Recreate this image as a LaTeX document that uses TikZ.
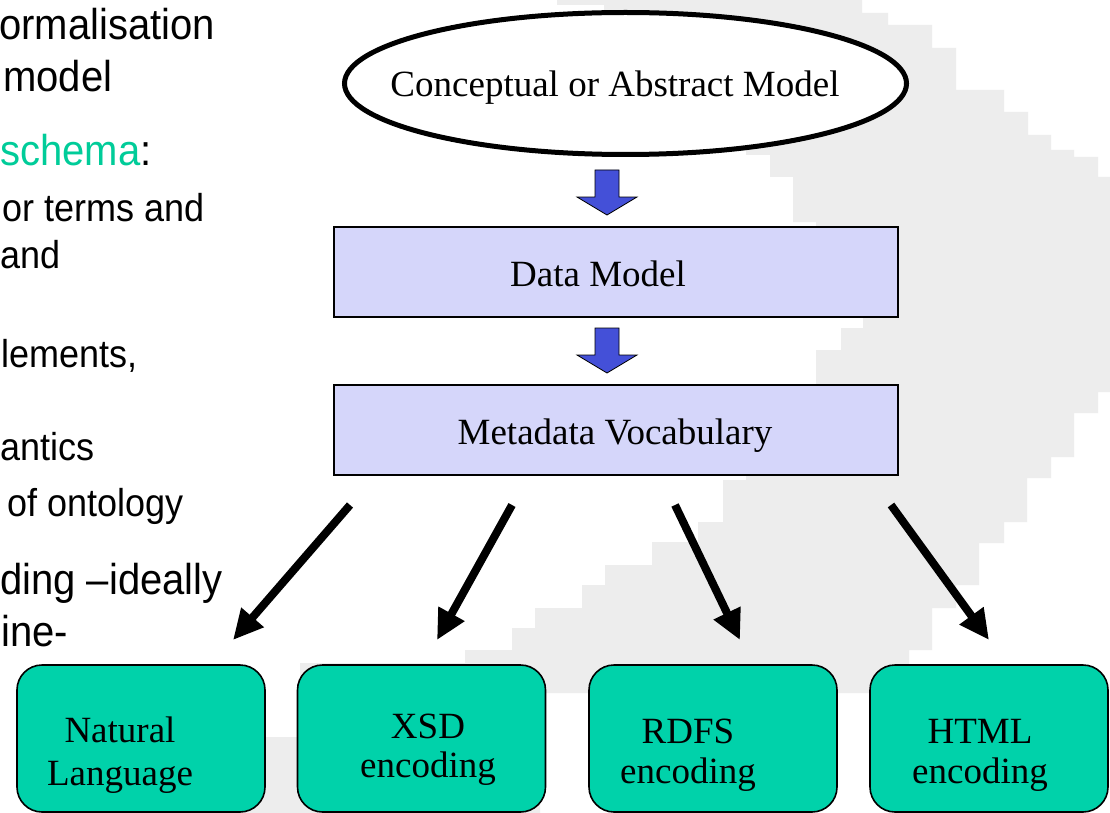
\documentclass[tikz,border=0pt]{standalone}
\usepackage{fontspec}
\usepackage{graphicx}
\setmainfont{Liberation Serif}
\newfontfamily\arialf{Liberation Sans}
\usetikzlibrary{arrows.meta,shapes.geometric}
\definecolor{bggray}{RGB}{237,237,237}
\definecolor{lav}{RGB}{213,214,250}
\definecolor{tealbox}{RGB}{0,210,170}
\definecolor{grn}{RGB}{0,204,153}
\definecolor{bluearr}{RGB}{68,80,216}
\newcommand\vstretch[1]{\scalebox{1}[1.08]{#1}}
\begin{document}
\begin{tikzpicture}[x=1pt,y=-1pt,
  serif/.style={font=\fontsize{37}{42}\selectfont, inner sep=0pt, anchor=base},
  maintxt/.style={font=\arialf\fontsize{40}{46}\selectfont, inner sep=0pt, anchor=base west},
  subtxt/.style={font=\arialf\fontsize{36}{42}\selectfont, inner sep=0pt, anchor=base west},
  vbox/.style={draw=black, line width=2pt, fill=lav, minimum width=564pt, minimum height=90pt, inner sep=0pt},
  encbox/.style={draw=black, line width=1.6pt, fill=tealbox, rounded corners=25pt, minimum width=248pt, minimum height=147pt, inner sep=0pt},
  blockarr/.style={fill=bluearr, draw=black, line width=0.8pt},
  bigarrow/.style={draw=black, line width=8pt, -{Triangle[length=30pt,width=28pt]}}
]
\useasboundingbox (0,0) rectangle (1110,813);
\fill[white] (0,0) rectangle (1110,813);
% stepped background band
\fill[bggray] (557,0) -- (862,0) -- (862,13) -- (888,13) -- (888,25) -- (932,25) -- (932,48) -- (956,48) -- (956,90) -- (1004,90) -- (1004,112) -- (1028,112) -- (1028,135) -- (1051,135) -- (1051,150) -- (1074,150) -- (1074,157) -- (1098,157) -- (1098,177) -- (1110,177) -- (1110,392) -- (1098,392) -- (1098,413) -- (1074,413) -- (1074,457) -- (1051,457) -- (1051,478) -- (1027,478) -- (1027,522) -- (1004,522) -- (1004,543) -- (979,543) -- (979,585) -- (956,585) -- (956,608) -- (932,608) -- (932,650) -- (909,650) -- (909,693) -- (540,693) -- (540,813) -- (150,813) -- (150,737) -- (300,737) -- (300,663) -- (465,663) -- (465,650) -- (512,650) -- (512,628) -- (535,628) -- (535,608) -- (582,608) -- (582,585) -- (605,585) -- (605,565) -- (652,565) -- (652,542) -- (698,542) -- (698,522) -- (723,522) -- (723,480) -- (746,480) -- (746,475) -- (816,475) -- (816,350) -- (841,350) -- (841,328) -- (863,328) -- (863,226) -- (816,226) -- (816,222) -- (793,222) -- (793,177) -- (770,177) -- (770,155) -- (746,155) -- (746,112) -- (723,112) -- (723,90) -- (676,90) -- (676,70) -- (652,70) -- (652,48) -- (628,48) -- (628,25) -- (604,25) -- (604,5) -- (557,5) -- cycle;

% left text (cropped slide text)
\node[maintxt] (l1) at (-1,40) {\vstretch{ormalisation}};
\node[maintxt] (l2) at (3,92) {\vstretch{model}};
\node[maintxt] (l3) at (0,166) {\vstretch{\textcolor{grn}{schema}:}};
\node[subtxt] (l4) at (2,222) {\vstretch{or terms and}};
\node[subtxt] (l5) at (0,268) {\vstretch{and}};
\node[subtxt] (l6) at (1,367) {\vstretch{lements,}};
\node[subtxt] (l7) at (0,460) {\vstretch{antics}};
\node[subtxt] (l8) at (7,516) {\vstretch{of ontology}};
\node[maintxt] (l9) at (0,594) {\vstretch{ding \textendash ideally}};
\node[maintxt] (l10) at (1,646) {\vstretch{ine-}};

% ellipse
\node[ellipse, draw=black, line width=5pt, fill=white, minimum width=562pt, minimum height=142pt, inner sep=0pt] (cm) at (625.5,83.5) {};
\node[serif] (cmt) at (615,97) {Conceptual or Abstract Model};

% boxes
\node[vbox] (dm) at (615.5,272) {};
\node[serif] (dmt) at (598,286) {Data Model};
\node[vbox] (mv) at (615.5,430) {};
\node[serif] (mvt) at (615,444) {Metadata Vocabulary};

% block arrows
\path[blockarr] (595,170) -- (619,170) -- (619,197) -- (637,197) -- (607,215) -- (577,197) -- (595,197) -- cycle;
\path[blockarr] (595,328) -- (619,328) -- (619,355) -- (637,355) -- (607,373) -- (577,355) -- (595,355) -- cycle;

% encoding boxes
\node[encbox] (nl) at (141,738.5) {};
\node[encbox] (xsd) at (421.5,738.5) {};
\node[encbox] (rdfs) at (713,738.5) {};
\node[encbox, minimum width=238pt] (html) at (989,738.5) {};
\node[serif] (nl1) at (120,742) {Natural};
\node[serif] (nl2) at (120,785) {Language};
\node[serif] (xsd1) at (428,738) {XSD};
\node[serif] (xsd2) at (428,777) {encoding};
\node[serif] (rdfs1) at (688,743) {RDFS};
\node[serif] (rdfs2) at (688,783) {encoding};
\node[serif] (html1) at (980,743) {HTML};
\node[serif] (html2) at (980,783) {encoding};

% black arrows
\coordinate (a1s) at (350,505); \coordinate (a1e) at (233,640);
\coordinate (a2s) at (512,505); \coordinate (a2e) at (437,640);
\coordinate (a3s) at (675,505); \coordinate (a3e) at (740,640);
\coordinate (a4s) at (891,505); \coordinate (a4e) at (989,640);
\draw[bigarrow] (a1s) -- (a1e);
\draw[bigarrow] (a2s) -- (a2e);
\draw[bigarrow] (a3s) -- (a3e);
\draw[bigarrow] (a4s) -- (a4e);
\end{tikzpicture}
\end{document}
